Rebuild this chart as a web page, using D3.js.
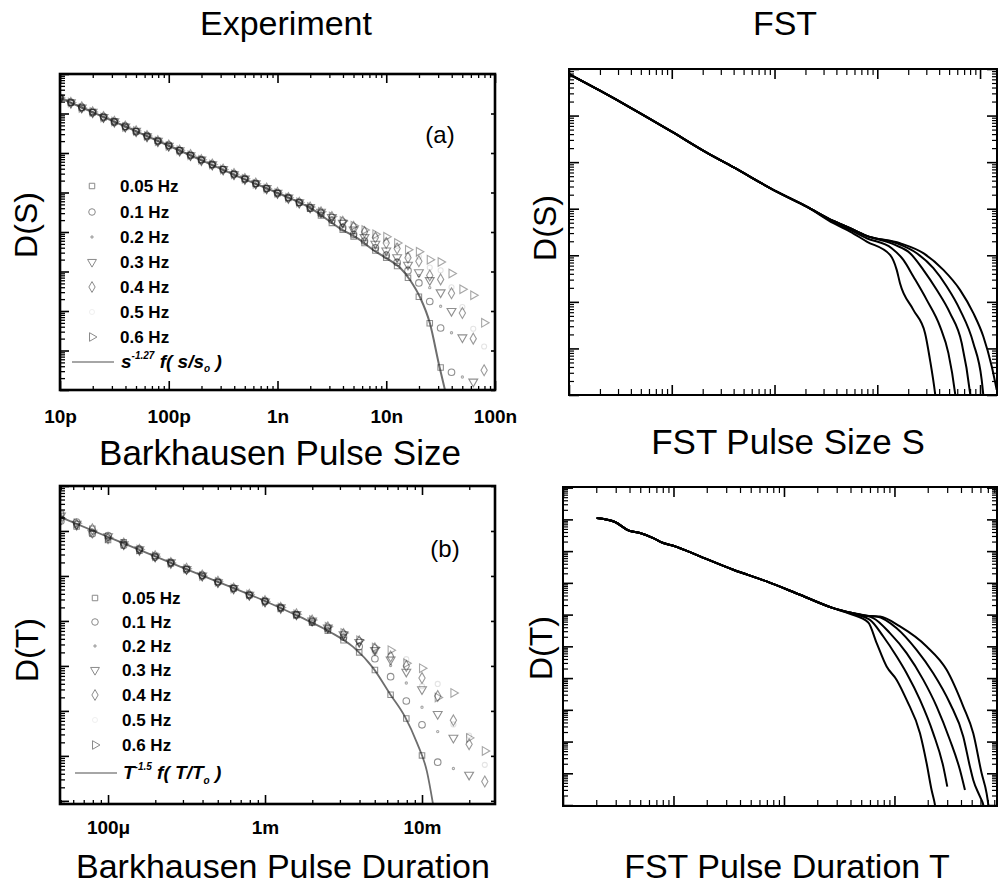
<!DOCTYPE html>
<html><head><meta charset="utf-8">
<script src="https://cdn.jsdelivr.net/npm/d3@7"></script>
<style>body{margin:0;background:#fff}svg{display:block}text{font-family:"Liberation Sans",Arial,Helvetica,sans-serif}</style>
</head><body><svg id="c" width="999" height="888"></svg>
<script>
// ================= DATA (log10 values) =================
const freqLabels = ["0.05 Hz","0.1 Hz","0.2 Hz","0.3 Hz","0.4 Hz","0.5 Hz","0.6 Hz"];
const sizeTickValues = [1e-11,1e-10,1e-9,1e-8,1e-7];
const sizeTickLabels = ["10p","100p","1n","10n","100n"];
const durTickValues = [1e-4,1e-3,1e-2];
const durTickLabels = ["100\u03bc","1m","10m"];

// (a) Barkhausen pulse size distributions, log10 S bins and log10 D(S) per frequency
const logSizeBins = [-11.0,-10.9,-10.8,-10.7,-10.6,-10.5,-10.4,-10.3,-10.2,-10.1,-10.0,-9.9,-9.8,-9.7,-9.6,-9.5,-9.4,-9.3,-9.2,-9.1,-9.0,-8.9,-8.8,-8.7,-8.6,-8.5,-8.4,-8.3,-8.2,-8.1,-8.0,-7.9,-7.8,-7.7,-7.6,-7.5,-7.4,-7.3,-7.2,-7.1];
const logDS_005 = [-0.60,-0.73,-0.86,-0.96,-1.10,-1.20,-1.34,-1.45,-1.58,-1.69,-1.82,-1.93,-2.06,-2.17,-2.30,-2.41,-2.54,-2.66,-2.78,-2.90,-3.02,-3.14,-3.26,-3.41,-3.58,-3.77,-3.94,-4.11,-4.28,-4.47,-4.65,-4.86,-5.16,-5.64,-6.31,-7.43];
const logDS_01 = [-0.62,-0.72,-0.84,-0.98,-1.08,-1.22,-1.32,-1.46,-1.56,-1.70,-1.80,-1.94,-2.05,-2.18,-2.29,-2.42,-2.53,-2.66,-2.77,-2.90,-3.01,-3.13,-3.25,-3.39,-3.53,-3.70,-3.89,-4.06,-4.23,-4.40,-4.59,-4.77,-4.98,-5.29,-5.76,-6.43,-7.55];
const logDS_02 = [-0.61,-0.74,-0.85,-0.97,-1.09,-1.21,-1.33,-1.45,-1.57,-1.69,-1.81,-1.93,-2.05,-2.17,-2.30,-2.42,-2.54,-2.65,-2.78,-2.90,-3.02,-3.14,-3.26,-3.38,-3.51,-3.65,-3.82,-4.01,-4.18,-4.35,-4.52,-4.71,-4.89,-5.10,-5.41,-5.88,-6.55,-7.67];
const logDS_03 = [-0.60,-0.72,-0.85,-0.96,-1.09,-1.20,-1.33,-1.44,-1.58,-1.69,-1.82,-1.93,-2.06,-2.17,-2.29,-2.41,-2.54,-2.65,-2.77,-2.89,-3.01,-3.13,-3.25,-3.37,-3.49,-3.62,-3.77,-3.94,-4.13,-4.30,-4.47,-4.64,-4.83,-5.02,-5.22,-5.53,-6.00,-6.67,-7.79];
const logDS_04 = [-0.61,-0.73,-0.84,-0.97,-1.09,-1.21,-1.33,-1.45,-1.57,-1.70,-1.81,-1.94,-2.05,-2.18,-2.29,-2.42,-2.53,-2.66,-2.77,-2.90,-3.01,-3.14,-3.26,-3.38,-3.50,-3.62,-3.74,-3.87,-4.00,-4.14,-4.28,-4.42,-4.65,-4.74,-5.10,-5.20,-5.55,-6.05,-6.70,-7.50];
const logDS_05 = [-0.62,-0.73,-0.85,-0.97,-1.09,-1.21,-1.33,-1.45,-1.57,-1.69,-1.81,-1.93,-2.05,-2.17,-2.30,-2.41,-2.53,-2.65,-2.78,-2.89,-3.02,-3.14,-3.26,-3.38,-3.50,-3.62,-3.74,-3.85,-3.97,-4.10,-4.22,-4.35,-4.60,-4.62,-4.90,-4.97,-5.40,-5.90,-6.45,-6.90];
const logDS_06 = [-0.61,-0.72,-0.86,-0.96,-1.10,-1.20,-1.34,-1.44,-1.57,-1.70,-1.82,-1.93,-2.06,-2.17,-2.29,-2.42,-2.54,-2.65,-2.78,-2.90,-3.01,-3.13,-3.25,-3.37,-3.49,-3.61,-3.72,-3.84,-3.95,-4.06,-4.12,-4.28,-4.45,-4.50,-4.70,-4.76,-5.05,-5.45,-5.60,-6.30];
const fitSLogS = [-11.0,-10.45,-9.87,-9.35,-9.0,-8.70,-8.43,-8.27,-8.09,-7.97,-7.87,-7.78,-7.69,-7.60,-7.51,-7.46];
const fitSLogD = [-0.608,-1.27,-1.975,-2.61,-3.013,-3.39,-3.90,-4.15,-4.51,-4.71,-4.91,-5.22,-5.65,-6.30,-7.42,-8.0];

// (b) Barkhausen pulse duration distributions
const logDurBins = [-4.3,-4.2,-4.1,-4.0,-3.9,-3.8,-3.7,-3.6,-3.5,-3.4,-3.3,-3.2,-3.1,-3.0,-2.9,-2.8,-2.7,-2.6,-2.5,-2.4,-2.3,-2.2,-2.1,-2.0,-1.9,-1.8,-1.7,-1.6];
const logDT_005 = [-0.62,-0.90,-0.95,-1.20,-1.25,-1.44,-1.55,-1.72,-1.84,-2.00,-2.13,-2.28,-2.42,-2.56,-2.72,-2.87,-3.04,-3.22,-3.43,-3.70,-4.09,-4.64,-5.17,-5.99];
const logDT_01 = [-0.78,-0.80,-1.06,-1.10,-1.32,-1.40,-1.58,-1.70,-1.86,-1.98,-2.14,-2.27,-2.43,-2.56,-2.70,-2.86,-3.02,-3.18,-3.36,-3.57,-3.84,-4.24,-4.78,-5.31,-6.14];
const logDT_02 = [-0.70,-0.92,-0.98,-1.18,-1.24,-1.46,-1.55,-1.71,-1.85,-1.99,-2.13,-2.28,-2.42,-2.56,-2.71,-2.85,-3.00,-3.16,-3.32,-3.51,-3.71,-3.99,-4.38,-4.92,-5.46,-6.28];
const logDT_03 = [-0.66,-0.84,-1.04,-1.12,-1.30,-1.41,-1.57,-1.70,-1.85,-1.99,-2.14,-2.27,-2.42,-2.57,-2.70,-2.85,-2.99,-3.15,-3.30,-3.47,-3.65,-3.86,-4.13,-4.52,-5.07,-5.60,-6.42];
const logDT_04 = [-0.74,-0.86,-0.96,-1.16,-1.28,-1.42,-1.56,-1.71,-1.84,-1.99,-2.13,-2.28,-2.42,-2.56,-2.71,-2.85,-2.99,-3.14,-3.29,-3.45,-3.61,-3.79,-4.00,-4.27,-4.67,-5.21,-5.74,-6.57];
const logDT_05 = [-0.68,-0.88,-1.00,-1.14,-1.27,-1.43,-1.57,-1.70,-1.85,-1.99,-2.14,-2.27,-2.42,-2.56,-2.70,-2.84,-2.99,-3.13,-3.28,-3.43,-3.70,-3.76,-3.85,-4.45,-4.40,-5.30,-5.55,-6.20];
const logDT_06 = [-0.72,-0.83,-1.02,-1.15,-1.29,-1.41,-1.56,-1.71,-1.84,-2.00,-2.13,-2.28,-2.41,-2.57,-2.70,-2.85,-2.98,-3.13,-3.27,-3.43,-3.59,-3.65,-3.94,-4.05,-4.70,-4.60,-5.60,-5.89];
const fitTLogT = [-4.306,-4.0,-3.522,-2.987,-2.777,-2.586,-2.439,-2.312,-2.204,-2.108,-2.032,-1.968,-1.93];
const fitTLogD = [-0.689,-1.133,-1.822,-2.578,-2.911,-3.244,-3.578,-4.044,-4.622,-5.133,-5.711,-6.356,-7.067];

// FST pulse size S: common power-law part, then one tail per curve
const fstSCommonLogS = [0,0.302,0.626,1.0,1.34,1.599,2.021,2.313];
const fstSCommonLogD = [-0.11,-0.466,-0.865,-1.345,-1.796,-2.109,-2.633,-2.955];
const fstS1LogS = [2.573,2.735,2.897,3.124,3.189,3.221,3.351,3.465,3.513,3.562,3.58];
const fstS1LogD = [-3.311,-3.49,-3.705,-3.991,-4.313,-4.599,-5.172,-5.672,-6.245,-6.96,-7.3];
const fstS2LogS = [2.573,2.735,2.897,3.14,3.254,3.351,3.481,3.611,3.692,3.757,3.775];
const fstS2LogD = [-3.29,-3.455,-3.634,-3.848,-4.099,-4.456,-4.957,-5.53,-6.101,-6.96,-7.3];
const fstS3LogS = [2.573,2.735,2.897,3.173,3.319,3.448,3.578,3.708,3.822,3.903,3.92];
const fstS3LogD = [-3.262,-3.419,-3.584,-3.777,-3.955,-4.313,-4.742,-5.243,-5.887,-6.96,-7.3];
const fstS4LogS = [2.573,2.735,2.897,3.189,3.384,3.546,3.676,3.805,3.935,4.016,4.045];
const fstS4LogD = [-3.262,-3.419,-3.584,-3.741,-3.955,-4.277,-4.671,-5.172,-5.887,-6.674,-7.3];
const fstS5LogS = [2.573,2.735,2.897,3.221,3.448,3.643,3.805,3.935,4.032,4.114,4.162];
const fstS5LogD = [-3.262,-3.419,-3.584,-3.741,-3.955,-4.313,-4.742,-5.243,-5.744,-6.388,-6.888];

// FST pulse duration T
const fstTCommonLogT = [0.305,0.471,0.591,0.697,0.817,0.908,0.998,1.240,1.541,1.843,2.145,2.446];
const fstTCommonLogD = [-0.957,-1.083,-1.346,-1.430,-1.588,-1.745,-1.830,-2.166,-2.587,-2.955,-3.375,-3.796];
const fstT1LogT = [2.597,2.763,2.839,2.929,3.02,3.11,3.231,3.291,3.336,3.367,3.38];
const fstT1LogD = [-3.975,-4.248,-4.9,-5.636,-6.057,-6.688,-7.74,-8.685,-9.527,-10.0,-10.3];
const fstT2LogT = [2.597,2.778,2.899,3.02,3.11,3.231,3.351,3.442,3.478];
const fstT2LogD = [-3.954,-4.164,-4.69,-5.32,-5.846,-6.688,-7.74,-8.79,-9.42];
const fstT3LogT = [2.597,2.808,2.959,3.11,3.261,3.382,3.502,3.593,3.638];
const fstT3LogD = [-3.933,-4.111,-4.585,-5.216,-6.057,-6.898,-7.95,-8.896,-9.527];
const fstT4LogT = [2.597,2.748,2.839,3.02,3.2,3.351,3.502,3.623,3.683,3.713,3.774,3.804,3.82];
const fstT4LogD = [-3.933,-4.038,-4.059,-4.427,-5.11,-5.846,-6.793,-7.845,-8.79,-9.211,-9.737,-10.0,-10.3];
const fstT5LogT = [2.597,2.748,2.869,3.05,3.291,3.472,3.623,3.713,3.789,3.834,3.85,3.86];
const fstT5LogD = [-3.933,-4.038,-4.059,-4.374,-5.005,-5.741,-6.898,-7.74,-9.0,-9.631,-10.0,-10.3];

// ================= DRAWING =================
const svg = d3.select("#c");
const defs = svg.append("defs");
const p10 = v => Math.pow(10, v);

function makePanel(name, x0, x1, y0, y1, xdLog, ydLog) {
  const x = d3.scaleLog().domain(xdLog.map(p10)).range([x0, x1]);
  const y = d3.scaleLog().domain(ydLog.map(p10)).range([y1, y0]);
  defs.append("clipPath").attr("id", "clip" + name).append("rect")
    .attr("x", x0).attr("y", y0).attr("width", x1 - x0).attr("height", y1 - y0);
  const g = svg.append("g");
  const plot = g.append("g").attr("clip-path", `url(#clip${name})`);
  return {x, y, g, plot, x0, x1, y0, y1};
}
function decadeTicks(scale) {
  const [a, b] = scale.domain().map(Math.log10); const t = [];
  for (let e = Math.ceil(a - 1e-6); e <= Math.floor(b + 1e-6); e++) t.push(p10(e));
  return t;
}
function minorTicks(scale) {
  const [a, b] = scale.domain().map(Math.log10); const t = [];
  for (let e = Math.floor(a); e <= Math.ceil(b); e++)
    for (let m = 2; m < 10; m++) { const l = e + Math.log10(m); if (l > a + 1e-4 && l < b - 1e-4) t.push(m * p10(e)); }
  return t;
}
function axis(P, side, values, len, sw, fmt, pad, fs) {
  const fn = {bottom: d3.axisBottom, top: d3.axisTop, left: d3.axisLeft, right: d3.axisRight}[side];
  const sc = (side === "bottom" || side === "top") ? P.x : P.y;
  const ax = fn(sc).tickValues(values).tickSizeInner(-len).tickSizeOuter(0)
    .tickFormat(fmt || (() => "")).tickPadding(pad || 3);
  const tr = {bottom: `translate(0,${P.y1})`, top: `translate(0,${P.y0})`, left: `translate(${P.x0},0)`, right: `translate(${P.x1},0)`}[side];
  const a = P.g.append("g").attr("transform", tr).call(ax);
  a.select(".domain").remove();
  a.selectAll(".tick line").attr("stroke", "#000").attr("stroke-width", sw);
  if (fmt) a.selectAll(".tick text").attr("fill", "#000").attr("font-size", fs).attr("font-weight", "bold")
    .attr("font-family", '"Liberation Sans", Arial, sans-serif');
  return a;
}
function frame(P, sw) {
  P.g.append("rect").attr("x", P.x0).attr("y", P.y0).attr("width", P.x1 - P.x0).attr("height", P.y1 - P.y0)
    .attr("fill", "none").attr("stroke", "#000").attr("stroke-width", sw);
}
function addText(x, y, str, size, opts = {}) {
  const t = svg.append("text").attr("x", x).attr("y", y).attr("font-size", size)
    .attr("text-anchor", opts.anchor || "middle").attr("fill", "#000").text(str);
  if (opts.weight) t.attr("font-weight", opts.weight);
  if (opts.rotate) t.attr("x", 0).attr("y", 0).attr("transform", `translate(${x},${y}) rotate(-90)`);
  return t;
}

const symSpecs = [
  {type: d3.symbolSquare, size: 30, rot: 0, op: 0.5},
  {type: d3.symbolCircle, size: 34, rot: 0, op: 0.5},
  {type: d3.symbolCircle, size: 4, rot: 0, op: 0.4},
  {type: d3.symbolTriangle, size: 34, rot: 180, op: 0.5},
  {type: d3.symbolDiamond, size: 34, rot: 0, op: 0.45},
  {type: d3.symbolCircle, size: 20, rot: 0, op: 0.12},
  {type: d3.symbolTriangle, size: 32, rot: 90, op: 0.4}
];
function drawMarkers(P, bins, series) {
  series.forEach((vals, i) => {
    const s = symSpecs[i];
    const pts = vals.map((v, k) => [bins[k], v]);
    P.plot.append("g").selectAll("path").data(pts).join("path")
      .attr("d", d3.symbol().type(s.type).size(s.size))
      .attr("transform", d => `translate(${P.x(p10(d[0]))},${P.y(p10(d[1]))}) rotate(${s.rot})`)
      .attr("fill", "none").attr("stroke", "#202020").attr("stroke-opacity", s.op).attr("stroke-width", 1.1);
  });
}
function legend(x0, xt, rowsY, fitY, fitParts) {
  freqLabels.forEach((lab, i) => {
    const s = symSpecs[i];
    svg.append("path").attr("d", d3.symbol().type(s.type).size(s.size)())
      .attr("transform", `translate(${x0},${rowsY[i]}) rotate(${s.rot})`)
      .attr("fill", "none").attr("stroke", i === 5 ? "#f0f0f0" : "#8a8a8a").attr("stroke-width", 1);
    addText(xt, rowsY[i] + 6, lab, 17, {anchor: "start", weight: "bold"});
  });
  svg.append("line").attr("x1", x0 - 20).attr("x2", x0 + 22).attr("y1", fitY).attr("y2", fitY)
    .attr("stroke", "#888").attr("stroke-width", 1.6);
  const t = svg.append("text").attr("x", xt + 1).attr("y", fitY + 6).attr("font-size", 19)
    .attr("font-weight", "bold").attr("font-style", "italic").attr("fill", "#000");
  fitParts.forEach(pt => {
    const ts = t.append("tspan").text(pt.t);
    if (pt.fs) ts.attr("font-size", pt.fs);
    if (pt.dy) ts.attr("dy", pt.dy);
  });
}
const lineGen = (P, curve) => d3.line().x(d => P.x(p10(d[0]))).y(d => P.y(p10(d[1]))).curve(curve || d3.curveLinear);

// ---------- Panel (a) ----------
const A = makePanel("A", 60, 495, 74, 390, [-11, -7], [-8, 0]);
A.plot.append("path").datum(d3.zip(fitSLogS, fitSLogD)).attr("d", lineGen(A, d3.curveMonotoneX))
  .attr("fill", "none").attr("stroke", "#6e6e6e").attr("stroke-width", 2);
drawMarkers(A, logSizeBins, [logDS_005, logDS_01, logDS_02, logDS_03, logDS_04, logDS_05, logDS_06]);
axis(A, "left", decadeTicks(A.y), 9, 1.6);
axis(A, "left", minorTicks(A.y), 5, 1.3);
axis(A, "right", decadeTicks(A.y), 4, 1.6);
axis(A, "top", decadeTicks(A.x), 9, 1.6);
axis(A, "top", minorTicks(A.x), 4, 1.3);
axis(A, "bottom", minorTicks(A.x), 4, 1.3);
axis(A, "bottom", sizeTickValues, 9, 1.6, (d, i) => sizeTickLabels[i], 19.5, 19);
frame(A, 2.6);
addText(440, 143, "(a)", 24);
legend(92, 120, [186, 212, 237, 262, 287, 312, 337], 362,
  [{t: "s"}, {t: "-1.27", fs: 10, dy: -9}, {t: " f( s/s", dy: 9}, {t: "o", fs: 10, dy: 4}, {t: " )", dy: -4}]);

// ---------- Panel (b) ----------
const B = makePanel("B", 60, 495, 486, 804, [-4.306, -1.535], [-7.07, 0]);
B.plot.append("path").datum(d3.zip(fitTLogT, fitTLogD)).attr("d", lineGen(B, d3.curveMonotoneX))
  .attr("fill", "none").attr("stroke", "#6e6e6e").attr("stroke-width", 1.8);
drawMarkers(B, logDurBins, [logDT_005, logDT_01, logDT_02, logDT_03, logDT_04, logDT_05, logDT_06]);
axis(B, "left", decadeTicks(B.y), 9, 1.6);
axis(B, "left", minorTicks(B.y), 5, 1.3);
axis(B, "right", decadeTicks(B.y), 4, 1.6);
axis(B, "top", decadeTicks(B.x), 9, 1.6);
axis(B, "top", minorTicks(B.x), 4, 1.3);
axis(B, "bottom", minorTicks(B.x), 4, 1.3);
axis(B, "bottom", durTickValues, 9, 1.6, (d, i) => durTickLabels[i], 16.5, 19);
frame(B, 2.6);
addText(445, 557, "(b)", 24);
legend(95, 122, [598, 622, 646, 670, 695, 720, 745], 773,
  [{t: "T"}, {t: "-1.5", fs: 10, dy: -9}, {t: " f( T/T", dy: 9}, {t: "o", fs: 10, dy: 5}, {t: " )", dy: -5}]);

// ---------- Panel FST S ----------
const C = makePanel("C", 569, 997, 69, 395, [0, 4.165], [-7, 0]);
[[fstS1LogS, fstS1LogD], [fstS2LogS, fstS2LogD], [fstS3LogS, fstS3LogD], [fstS4LogS, fstS4LogD], [fstS5LogS, fstS5LogD]]
  .forEach(([xs, ys]) => {
    C.plot.append("path").datum(d3.zip(fstSCommonLogS.concat(xs), fstSCommonLogD.concat(ys)))
      .attr("d", lineGen(C, d3.curveMonotoneX)).attr("fill", "none").attr("stroke", "#000").attr("stroke-width", 2);
  });
["left", "right"].forEach(s => { axis(C, s, decadeTicks(C.y), 10, 1.6); axis(C, s, minorTicks(C.y), 5, 1.2); });
["top", "bottom"].forEach(s => { axis(C, s, decadeTicks(C.x), 10, 1.6); axis(C, s, minorTicks(C.x), 6, 1.2); });
frame(C, 2);

// ---------- Panel FST T ----------
const D = makePanel("D", 563, 997, 487, 806, [0, 3.928], [-10.03, 0.02]);
[[fstT1LogT, fstT1LogD], [fstT2LogT, fstT2LogD], [fstT3LogT, fstT3LogD], [fstT4LogT, fstT4LogD], [fstT5LogT, fstT5LogD]]
  .forEach(([xs, ys]) => {
    D.plot.append("path").datum(d3.zip(fstTCommonLogT.concat(xs), fstTCommonLogD.concat(ys)))
      .attr("d", lineGen(D, d3.curveMonotoneX)).attr("fill", "none").attr("stroke", "#000").attr("stroke-width", 2);
  });
["left", "right"].forEach(s => { axis(D, s, decadeTicks(D.y), 10, 1.6); axis(D, s, minorTicks(D.y), 5, 1.2); });
["top", "bottom"].forEach(s => { axis(D, s, decadeTicks(D.x), 10, 1.6); axis(D, s, minorTicks(D.x), 6, 1.2); });
frame(D, 2);

// ---------- Titles ----------
addText(286, 35, "Experiment", 34);
addText(785, 35, "FST", 34);
addText(280, 465, "Barkhausen Pulse Size", 35);
addText(788, 454, "FST Pulse Size S", 35);
addText(283, 878, "Barkhausen Pulse Duration", 34);
addText(787, 878, "FST Pulse Duration T", 34);
addText(37, 225, "D(S)", 32, {rotate: true});
addText(556, 228, "D(S)", 32, {rotate: true});
addText(38, 650, "D(T)", 32, {rotate: true});
addText(552, 648, "D(T)", 32, {rotate: true});
</script></body></html>
